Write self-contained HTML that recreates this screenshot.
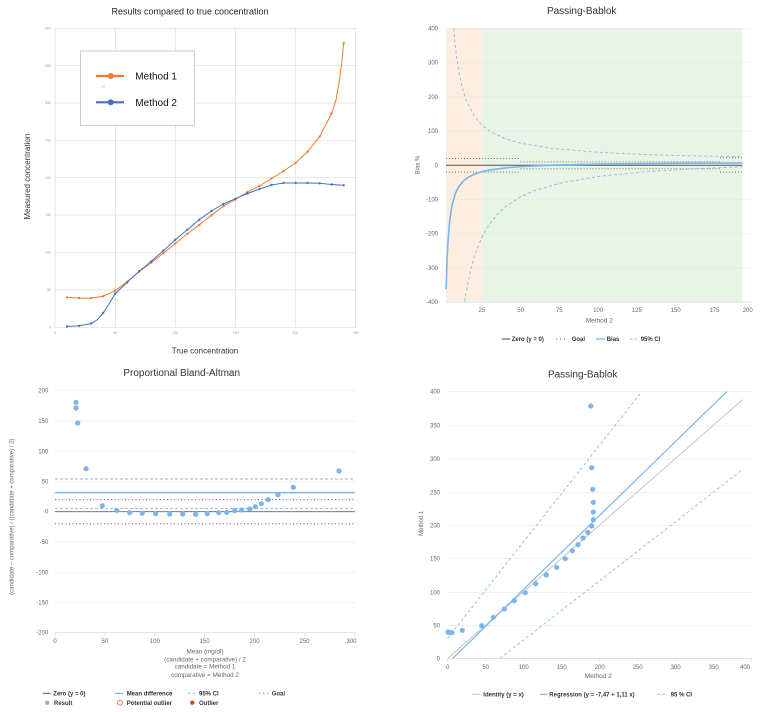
<!DOCTYPE html>
<html>
<head>
<meta charset="utf-8">
<style>
html,body{margin:0;padding:0;background:#fff;}
svg{display:block;}
text{font-family:"Liberation Sans",Arial,sans-serif;}
</style>
</head>
<body>
<svg width="760" height="712" viewBox="0 0 760 712" xmlns="http://www.w3.org/2000/svg">
<rect x="0" y="0" width="760" height="712" fill="#fff"/>

<!-- ================= TOP LEFT ================= -->
<text x="190" y="14.5" font-size="9" fill="#222" text-anchor="middle">Results compared to true concentration</text>
<g stroke="#dcdcdc" stroke-width="0.7">
  <line x1="55" y1="28.3" x2="355.7" y2="28.3"/>
  <line x1="55" y1="65.7" x2="355.7" y2="65.7"/>
  <line x1="55" y1="103" x2="355.7" y2="103"/>
  <line x1="55" y1="140.3" x2="355.7" y2="140.3"/>
  <line x1="55" y1="177.7" x2="355.7" y2="177.7"/>
  <line x1="55" y1="215" x2="355.7" y2="215"/>
  <line x1="55" y1="252.3" x2="355.7" y2="252.3"/>
  <line x1="55" y1="290" x2="355.7" y2="290"/>
  <line x1="55" y1="327.3" x2="355.7" y2="327.3"/>
  <line x1="55" y1="28.3" x2="55" y2="327.3"/>
  <line x1="115.3" y1="28.3" x2="115.3" y2="327.3"/>
  <line x1="175.3" y1="28.3" x2="175.3" y2="327.3"/>
  <line x1="235.7" y1="28.3" x2="235.7" y2="327.3"/>
  <line x1="295.3" y1="28.3" x2="295.3" y2="327.3"/>
  <line x1="355.7" y1="28.3" x2="355.7" y2="327.3"/>
</g>
<g font-size="3.5" fill="#999" text-anchor="end">
  <text x="51" y="29.5">400</text>
  <text x="51" y="66.9">350</text>
  <text x="51" y="104.2">300</text>
  <text x="51" y="141.5">250</text>
  <text x="51" y="178.9">200</text>
  <text x="51" y="216.2">150</text>
  <text x="51" y="253.5">100</text>
  <text x="51" y="291.2">50</text>
  <text x="51" y="328.5">0</text>
</g>
<g font-size="3.5" fill="#999" text-anchor="middle">
  <text x="55" y="334">0</text>
  <text x="115.3" y="334">50</text>
  <text x="175.3" y="334">100</text>
  <text x="235.7" y="334">150</text>
  <text x="295.3" y="334">200</text>
  <text x="355.7" y="334">250</text>
</g>
<text x="0" y="0" font-size="8" fill="#333" text-anchor="middle" transform="translate(30,176.7) rotate(-90)">Measured concentration</text>
<text x="205" y="353.5" font-size="8" fill="#333" text-anchor="middle">True concentration</text>

<polyline fill="none" stroke="#ed7d31" stroke-width="1" points="67,297.4 79.1,298.1 91.1,298.1 103.1,296.3 115.1,290.7 127.2,281.7 139.2,271.6 151.2,262.6 163.3,253.3 175.3,243.6 187.3,233.9 199.3,224.9 211.4,215.2 223.4,206.2 235.4,199.5 247.4,192 259.5,186 271.5,178.5 283.5,171.1 295.6,162.9 307.6,151.6 319.6,136.7 331.6,113.5 336,100 339.5,80 341.8,62 343.7,43.3"/>
<g fill="#ed7d31">
  <circle cx="67" cy="297.4" r="1.2"/><circle cx="79.1" cy="298.1" r="1.2"/><circle cx="91.1" cy="298.1" r="1.2"/><circle cx="103.1" cy="296.3" r="1.2"/><circle cx="115.1" cy="290.7" r="1.2"/><circle cx="127.2" cy="281.7" r="1.2"/><circle cx="139.2" cy="271.6" r="1.2"/><circle cx="151.2" cy="262.6" r="1.2"/><circle cx="163.3" cy="253.3" r="1.2"/><circle cx="175.3" cy="243.6" r="1.2"/><circle cx="187.3" cy="233.9" r="1.2"/><circle cx="199.3" cy="224.9" r="1.2"/><circle cx="211.4" cy="215.2" r="1.2"/><circle cx="223.4" cy="206.2" r="1.2"/><circle cx="235.4" cy="199.5" r="1.2"/><circle cx="247.4" cy="192" r="1.2"/><circle cx="259.5" cy="186" r="1.2"/><circle cx="271.5" cy="178.5" r="1.2"/><circle cx="283.5" cy="171.1" r="1.2"/><circle cx="295.6" cy="162.9" r="1.2"/><circle cx="307.6" cy="151.6" r="1.2"/><circle cx="319.6" cy="136.7" r="1.2"/><circle cx="331.6" cy="113.5" r="1.2"/><circle cx="343.7" cy="43.3" r="1.2"/>
</g>
<polyline fill="none" stroke="#4472c4" stroke-width="1" points="67,326.5 79.1,325.8 91.1,323.6 97,320 103.1,313.1 109,304 115.1,293.7 127.2,282.4 139.2,271.2 151.2,261.5 163.3,250.7 175.3,239.8 187.3,229.7 199.3,219.7 211.4,211 223.4,204 235.4,198.7 247.4,193.5 259.5,189 271.5,185 283.5,183 295.6,183 307.6,183 319.6,183.3 331.6,184.5 343.7,185.3"/>
<g fill="#4472c4">
  <circle cx="67" cy="326.5" r="1.2"/><circle cx="79.1" cy="325.8" r="1.2"/><circle cx="91.1" cy="323.6" r="1.2"/><circle cx="103.1" cy="313.1" r="1.2"/><circle cx="115.1" cy="293.7" r="1.2"/><circle cx="127.2" cy="282.4" r="1.2"/><circle cx="139.2" cy="271.2" r="1.2"/><circle cx="151.2" cy="261.5" r="1.2"/><circle cx="163.3" cy="250.7" r="1.2"/><circle cx="175.3" cy="239.8" r="1.2"/><circle cx="187.3" cy="229.7" r="1.2"/><circle cx="199.3" cy="219.7" r="1.2"/><circle cx="211.4" cy="211" r="1.2"/><circle cx="223.4" cy="204" r="1.2"/><circle cx="235.4" cy="198.7" r="1.2"/><circle cx="247.4" cy="193.5" r="1.2"/><circle cx="259.5" cy="189" r="1.2"/><circle cx="271.5" cy="185" r="1.2"/><circle cx="283.5" cy="183" r="1.2"/><circle cx="295.6" cy="183" r="1.2"/><circle cx="307.6" cy="183" r="1.2"/><circle cx="319.6" cy="183.3" r="1.2"/><circle cx="331.6" cy="184.5" r="1.2"/><circle cx="343.7" cy="185.3" r="1.2"/>
</g>
<!-- legend box -->
<rect x="80.5" y="51" width="113.8" height="74.3" fill="#fff" stroke="#bdbdbd" stroke-width="0.8"/>
<line x1="96" y1="76" x2="124" y2="76" stroke="#ed7d31" stroke-width="2.2"/>
<circle cx="110.7" cy="76" r="3" fill="#ed7d31"/>
<text x="135.3" y="79.6" font-size="10" fill="#111">Method 1</text>
<line x1="102" y1="86.7" x2="105" y2="86.7" stroke="#ed7d31" stroke-width="0.6"/>
<line x1="96" y1="102.3" x2="124" y2="102.3" stroke="#4472c4" stroke-width="2.2"/>
<circle cx="110.7" cy="102.3" r="3" fill="#4472c4"/>
<text x="135.3" y="105.9" font-size="10" fill="#111">Method 2</text>

<!-- ================= TOP RIGHT ================= -->
<text x="581.7" y="13.8" font-size="10" fill="#333" text-anchor="middle">Passing-Bablok</text>
<rect x="446" y="28.3" width="35.8" height="273.8" fill="#fdeedf"/>
<rect x="481.8" y="28.3" width="260.5" height="273.8" fill="#e8f4e6"/>
<g stroke="#e6e6e6" stroke-width="0.6">
  <line x1="446" y1="28.3" x2="752" y2="28.3"/>
  <line x1="446" y1="62.5" x2="752" y2="62.5"/>
  <line x1="446" y1="96.9" x2="752" y2="96.9"/>
  <line x1="446" y1="131.1" x2="752" y2="131.1"/>
  <line x1="446" y1="199.5" x2="752" y2="199.5"/>
  <line x1="446" y1="233.7" x2="752" y2="233.7"/>
  <line x1="446" y1="267.9" x2="752" y2="267.9"/>
</g>
<line x1="446" y1="302.1" x2="752" y2="302.1" stroke="#ccd6eb" stroke-width="0.7"/>
<g font-size="6" fill="#666" text-anchor="end">
  <text x="438" y="30.3">400</text>
  <text x="438" y="64.5">300</text>
  <text x="438" y="98.9">200</text>
  <text x="438" y="133.1">100</text>
  <text x="438" y="167.3">0</text>
  <text x="438" y="201.5">-100</text>
  <text x="438" y="235.7">-200</text>
  <text x="438" y="269.9">-300</text>
  <text x="438" y="304.1">-400</text>
</g>
<g font-size="6" fill="#666" text-anchor="middle">
  <text x="481.8" y="312">25</text>
  <text x="520.6" y="312">50</text>
  <text x="559.3" y="312">75</text>
  <text x="598.1" y="312">100</text>
  <text x="636.8" y="312">125</text>
  <text x="675.7" y="312">150</text>
  <text x="714.4" y="312">175</text>
  <text x="747.7" y="312">200</text>
</g>
<text x="0" y="0" font-size="6" fill="#666" text-anchor="middle" transform="translate(419.5,165) rotate(-90)">Bias %</text>
<text x="599.3" y="322.7" font-size="6.5" fill="#666" text-anchor="middle">Method 2</text>

<!-- goal lines -->
<g stroke-width="1" stroke-dasharray="1 2" fill="none">
  <line x1="446" y1="158.5" x2="481.8" y2="158.5" stroke="#b0625a"/>
  <line x1="446" y1="172.1" x2="481.8" y2="172.1" stroke="#b0625a"/>
  <line x1="481.8" y1="158.5" x2="520.6" y2="158.5" stroke="#6e7f4e"/>
  <line x1="481.8" y1="172.1" x2="520.6" y2="172.1" stroke="#6e7f4e"/>
  <line x1="520.6" y1="161.9" x2="720" y2="161.9" stroke="#6e7f4e"/>
  <line x1="520.6" y1="168.7" x2="720" y2="168.7" stroke="#6e7f4e"/>
  <line x1="720" y1="157.8" x2="742" y2="157.8" stroke="#6e7f4e"/>
  <line x1="720" y1="172.1" x2="742" y2="172.1" stroke="#6e7f4e"/>
</g>
<line x1="446" y1="165.3" x2="742.3" y2="165.3" stroke="#555" stroke-width="1"/>
<polyline fill="none" stroke="#7cb5ec" stroke-width="1.6" points="446.1,289.3 446.9,263.7 447.7,246.7 449.2,225.4 450.8,212.6 452.3,204.1 455.4,193.5 458.5,187.1 463.2,181.2 467.8,177.5 474,174.3 481.8,171.8 489.5,170.1 505,167.9 520.6,166.6 548.5,165.3 598.1,164.1 675.7,163.2 742.3,162.9"/>
<g fill="none" stroke="#8fb8e0" stroke-width="0.9" stroke-dasharray="3 2.5">
  <polyline points="453.7,28.5 455.4,47.3 458.5,70.1 461.6,85.3 466.3,100.6 474,115.8 481.8,124.9 489.5,131 505,138.6 520.6,143.2 551.6,148.4 598.1,152.3 644.6,154.5 691.2,155.8 742.3,156.7"/>
  <polyline points="464.7,301.4 467.8,283.3 470.9,269.1 474,257.8 478.7,244.6 483.3,234.4 489.5,224 497.3,214.3 505,207 520.6,196.8 536.1,190.1 559.3,183.3 598.1,176.5 644.6,171.8 691.2,168.9 742.3,166.7"/>
</g>
<!-- legend -->
<g font-size="6" font-weight="bold" fill="#333">
  <line x1="501.7" y1="339" x2="510" y2="339" stroke="#444" stroke-width="1"/>
  <text x="511.7" y="341.1">Zero (y = 0)</text>
  <line x1="556" y1="339" x2="567" y2="339" stroke="#a05050" stroke-width="1" stroke-dasharray="1 3"/>
  <text x="571.7" y="341.1">Goal</text>
  <line x1="596" y1="339" x2="604.5" y2="339" stroke="#7cb5ec" stroke-width="1.3"/>
  <text x="606.7" y="341.1">Bias</text>
  <line x1="630" y1="339" x2="638.5" y2="339" stroke="#8fb8e0" stroke-width="1" stroke-dasharray="2.5 2"/>
  <text x="640.7" y="341.1">95% CI</text>
</g>

<!-- ================= BOTTOM LEFT ================= -->
<text x="181.7" y="375.8" font-size="10" fill="#333" text-anchor="middle">Proportional Bland-Altman</text>
<g stroke="#e6e6e6" stroke-width="0.6">
  <line x1="55" y1="390.7" x2="355.7" y2="390.7"/>
  <line x1="55" y1="421" x2="355.7" y2="421"/>
  <line x1="55" y1="451.3" x2="355.7" y2="451.3"/>
  <line x1="55" y1="481.7" x2="355.7" y2="481.7"/>
  <line x1="55" y1="542" x2="355.7" y2="542"/>
  <line x1="55" y1="572.3" x2="355.7" y2="572.3"/>
  <line x1="55" y1="602.3" x2="355.7" y2="602.3"/>
</g>
<line x1="55" y1="632.7" x2="355.7" y2="632.7" stroke="#ccd6eb" stroke-width="0.7"/>
<g stroke="#ccd6eb" stroke-width="0.7">
  <line x1="55" y1="632.7" x2="55" y2="636.5"/>
  <line x1="104.9" y1="632.7" x2="104.9" y2="636.5"/>
  <line x1="154.8" y1="632.7" x2="154.8" y2="636.5"/>
  <line x1="204.7" y1="632.7" x2="204.7" y2="636.5"/>
  <line x1="254.6" y1="632.7" x2="254.6" y2="636.5"/>
  <line x1="304.5" y1="632.7" x2="304.5" y2="636.5"/>
  <line x1="354.4" y1="632.7" x2="354.4" y2="636.5"/>
</g>
<g font-size="6" fill="#666" text-anchor="end">
  <text x="48.3" y="392.7">200</text>
  <text x="48.3" y="423">150</text>
  <text x="48.3" y="453.3">100</text>
  <text x="48.3" y="483.7">50</text>
  <text x="48.3" y="513.7">0</text>
  <text x="48.3" y="544">-50</text>
  <text x="48.3" y="574.3">-100</text>
  <text x="48.3" y="604.3">-150</text>
  <text x="48.3" y="634.7">-200</text>
</g>
<g font-size="6" fill="#666" text-anchor="middle">
  <text x="55" y="642.8">0</text>
  <text x="104.9" y="642.8">50</text>
  <text x="154.8" y="642.8">100</text>
  <text x="204.7" y="642.8">150</text>
  <text x="254.6" y="642.8">200</text>
  <text x="304.5" y="642.8">250</text>
  <text x="351.5" y="642.8">300</text>
</g>
<g font-size="6.3" fill="#666" text-anchor="middle">
  <text x="205" y="653.6">Mean (mg/dl)</text>
  <text x="205" y="661.5">(candidate + comparative) / 2</text>
  <text x="205" y="668.6">candidate = Method 1</text>
  <text x="205" y="676.8">comparative = Method 2</text>
</g>
<text x="0" y="0" font-size="6" fill="#666" text-anchor="middle" transform="translate(13.7,516.7) rotate(-90)">(candidate – comparative) / ((candidate + comparative) / 2)</text>

<line x1="55" y1="511.7" x2="355" y2="511.7" stroke="#666" stroke-width="0.9"/>
<line x1="55" y1="499.6" x2="355" y2="499.6" stroke="#a33a4a" stroke-width="1" stroke-dasharray="1 2.5"/>
<line x1="55" y1="523.8" x2="355" y2="523.8" stroke="#a33a4a" stroke-width="1" stroke-dasharray="1 2.5"/>
<line x1="55" y1="492.6" x2="355" y2="492.6" stroke="#7cb5ec" stroke-width="1.5"/>
<line x1="55" y1="479" x2="355" y2="479" stroke="#8fb8e0" stroke-width="0.9" stroke-dasharray="3 2"/>
<line x1="55" y1="508.4" x2="355" y2="508.4" stroke="#8fb8e0" stroke-width="0.9" stroke-dasharray="3 2"/>
<g fill="#7cb5ec">
  <circle cx="76" cy="402.3" r="2.6"/><circle cx="76" cy="408" r="2.6"/><circle cx="77.7" cy="423" r="2.6"/><circle cx="86" cy="468.7" r="2.6"/><circle cx="102.3" cy="505.7" r="2.6"/><circle cx="116.7" cy="510.3" r="2.6"/><circle cx="129.7" cy="512.7" r="2.6"/><circle cx="142.3" cy="513.3" r="2.6"/><circle cx="155.7" cy="513.7" r="2.6"/><circle cx="169.7" cy="514" r="2.6"/><circle cx="182.7" cy="514" r="2.6"/><circle cx="195.7" cy="514.3" r="2.6"/><circle cx="207.3" cy="513.7" r="2.6"/><circle cx="218.7" cy="512.7" r="2.6"/><circle cx="226.7" cy="512.3" r="2.6"/><circle cx="234.7" cy="510.7" r="2.6"/><circle cx="241.7" cy="510" r="2.6"/><circle cx="249.7" cy="509" r="2.6"/><circle cx="255.3" cy="506.7" r="2.6"/><circle cx="261.3" cy="503.7" r="2.6"/><circle cx="268.3" cy="499.7" r="2.6"/><circle cx="278" cy="494.7" r="2.6"/><circle cx="293.3" cy="487.3" r="2.6"/><circle cx="339" cy="471" r="2.6"/>
</g>
<!-- legend -->
<g font-size="6" font-weight="bold" fill="#333">
  <line x1="42.7" y1="693.3" x2="50.7" y2="693.3" stroke="#555" stroke-width="1"/>
  <text x="53.3" y="695.4">Zero (y = 0)</text>
  <line x1="115" y1="693.3" x2="123.5" y2="693.3" stroke="#7cb5ec" stroke-width="1.2"/>
  <text x="126.7" y="695.4">Mean difference</text>
  <line x1="188.3" y1="693.3" x2="196" y2="693.3" stroke="#8fb8e0" stroke-width="1" stroke-dasharray="2.5 2"/>
  <text x="199" y="695.4">95% CI</text>
  <line x1="259.3" y1="693.3" x2="268" y2="693.3" stroke="#a33a4a" stroke-width="1" stroke-dasharray="1 3"/>
  <text x="271.7" y="695.4">Goal</text>
  <circle cx="47.3" cy="702.7" r="2.2" fill="#7cb5ec"/>
  <text x="54" y="704.8">Result</text>
  <circle cx="120" cy="702.7" r="2.4" fill="none" stroke="#e05050" stroke-width="0.8"/>
  <text x="126.7" y="704.8">Potential outlier</text>
  <circle cx="192.3" cy="702.7" r="2.2" fill="#c0581a"/>
  <text x="199" y="704.8">Outlier</text>
</g>

<!-- ================= BOTTOM RIGHT ================= -->
<text x="582.7" y="377.5" font-size="10" fill="#333" text-anchor="middle">Passing-Bablok</text>
<g stroke="#e6e6e6" stroke-width="0.6">
  <line x1="447.7" y1="391.7" x2="751.7" y2="391.7"/>
  <line x1="447.7" y1="425.3" x2="751.7" y2="425.3"/>
  <line x1="447.7" y1="459" x2="751.7" y2="459"/>
  <line x1="447.7" y1="492.3" x2="751.7" y2="492.3"/>
  <line x1="447.7" y1="525.7" x2="751.7" y2="525.7"/>
  <line x1="447.7" y1="558.7" x2="751.7" y2="558.7"/>
  <line x1="447.7" y1="592.3" x2="751.7" y2="592.3"/>
  <line x1="447.7" y1="625.3" x2="751.7" y2="625.3"/>
</g>
<line x1="447.7" y1="658.5" x2="751.7" y2="658.5" stroke="#ccd6eb" stroke-width="0.7"/>
<g stroke="#ccd6eb" stroke-width="0.7">
  <line x1="447.7" y1="658.5" x2="447.7" y2="662"/>
  <line x1="485.7" y1="658.5" x2="485.7" y2="662"/>
  <line x1="523.7" y1="658.5" x2="523.7" y2="662"/>
  <line x1="561.7" y1="658.5" x2="561.7" y2="662"/>
  <line x1="599.7" y1="658.5" x2="599.7" y2="662"/>
  <line x1="637.7" y1="658.5" x2="637.7" y2="662"/>
  <line x1="675.7" y1="658.5" x2="675.7" y2="662"/>
  <line x1="713.7" y1="658.5" x2="713.7" y2="662"/>
  <line x1="751.7" y1="658.5" x2="751.7" y2="662"/>
</g>
<g font-size="6" fill="#666" text-anchor="end">
  <text x="440" y="393.7">400</text>
  <text x="440" y="427.3">350</text>
  <text x="440" y="461">300</text>
  <text x="440" y="494.3">250</text>
  <text x="440" y="527.7">200</text>
  <text x="440" y="560.7">150</text>
  <text x="440" y="594.3">100</text>
  <text x="440" y="627.3">50</text>
  <text x="440" y="660.3">0</text>
</g>
<g font-size="6" fill="#666" text-anchor="middle">
  <text x="447.7" y="668.8">0</text>
  <text x="485.7" y="668.8">50</text>
  <text x="523.7" y="668.8">100</text>
  <text x="561.7" y="668.8">150</text>
  <text x="599.7" y="668.8">200</text>
  <text x="637.7" y="668.8">250</text>
  <text x="675.7" y="668.8">300</text>
  <text x="713.7" y="668.8">350</text>
  <text x="745" y="668.8">400</text>
</g>
<text x="0" y="0" font-size="6" fill="#666" text-anchor="middle" transform="translate(423,523.3) rotate(-90)">Method 1</text>
<text x="598.3" y="678.2" font-size="6.5" fill="#666" text-anchor="middle">Method 2</text>

<line x1="447.7" y1="658.3" x2="742.6" y2="399.6" stroke="#c4c4c4" stroke-width="1"/>
<line x1="452.8" y1="658.3" x2="726.7" y2="391.7" stroke="#7cb5ec" stroke-width="1.2"/>
<line x1="447.7" y1="638.3" x2="641.6" y2="391.7" stroke="#8fb8e0" stroke-width="0.9" stroke-dasharray="3 2.5"/>
<line x1="500" y1="658.3" x2="740.7" y2="471" stroke="#8fb8e0" stroke-width="0.9" stroke-dasharray="3 2.5"/>
<g fill="#7cb5ec">
  <circle cx="448" cy="632" r="2.6"/><circle cx="450" cy="632.7" r="2.6"/><circle cx="452" cy="632.7" r="2.6"/><circle cx="462.3" cy="630.3" r="2.6"/><circle cx="481.7" cy="625.7" r="2.6"/><circle cx="493.3" cy="617.3" r="2.6"/><circle cx="504.3" cy="609" r="2.6"/><circle cx="514.3" cy="600.7" r="2.6"/><circle cx="525.3" cy="592.7" r="2.6"/><circle cx="535.7" cy="583.7" r="2.6"/><circle cx="546.3" cy="575" r="2.6"/><circle cx="556.7" cy="567.3" r="2.6"/><circle cx="565.3" cy="558.7" r="2.6"/><circle cx="572.3" cy="550.7" r="2.6"/><circle cx="578" cy="544.7" r="2.6"/><circle cx="583" cy="538" r="2.6"/><circle cx="587.7" cy="532.3" r="2.6"/><circle cx="591.7" cy="526" r="2.6"/><circle cx="593.3" cy="519.7" r="2.6"/><circle cx="593.3" cy="512" r="2.6"/><circle cx="593.3" cy="502.3" r="2.6"/><circle cx="592.7" cy="489.3" r="2.6"/><circle cx="591.7" cy="467.7" r="2.6"/><circle cx="590.7" cy="406" r="2.6"/>
</g>
<!-- legend -->
<g font-size="6" font-weight="bold" fill="#333">
  <line x1="472.3" y1="694.3" x2="480.5" y2="694.3" stroke="#c4c4c4" stroke-width="1"/>
  <text x="483.3" y="696.4">Identity (y = x)</text>
  <line x1="540" y1="694.3" x2="547.5" y2="694.3" stroke="#7cb5ec" stroke-width="1.2"/>
  <text x="549.3" y="696.4">Regression (y = -7,47 + 1,11 x)</text>
  <line x1="658" y1="694.3" x2="667.5" y2="694.3" stroke="#8fb8e0" stroke-width="1" stroke-dasharray="2.5 2"/>
  <text x="670.7" y="696.4">95 % CI</text>
</g>
</svg>
</body>
</html>
